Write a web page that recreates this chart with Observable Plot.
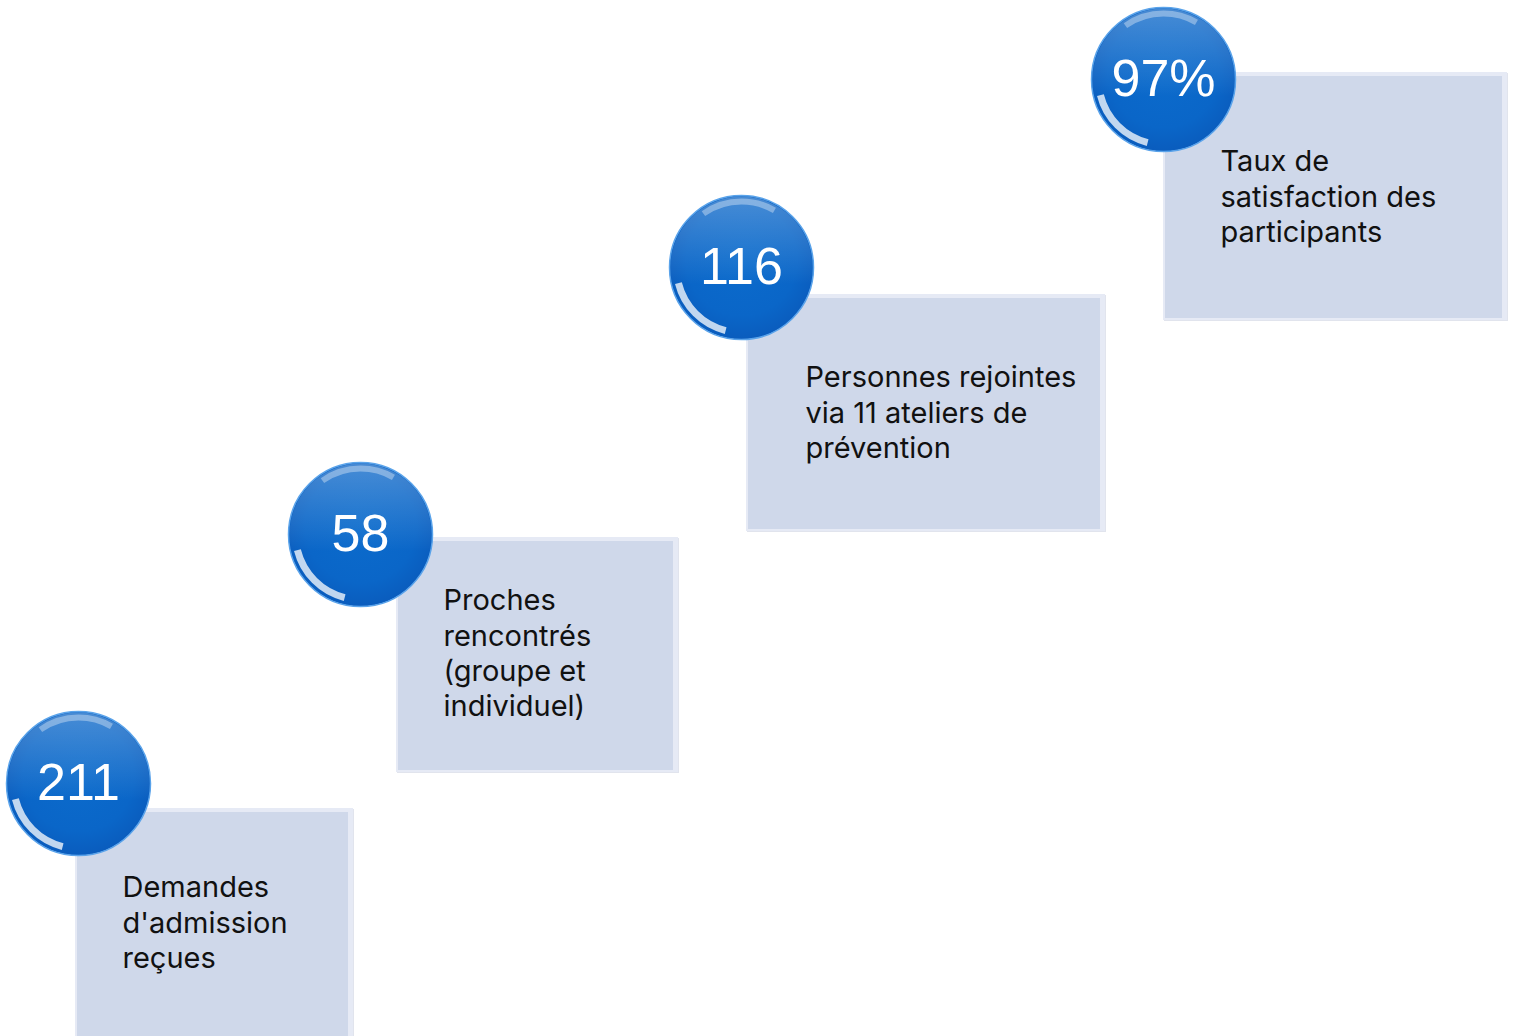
<!DOCTYPE html>
<html>
<head>
<meta charset="utf-8">
<script src="https://cdn.jsdelivr.net/npm/d3@7"></script>
<script src="https://cdn.jsdelivr.net/npm/@observablehq/plot@0.6"></script>
<style>
  html, body { margin: 0; padding: 0; background: #ffffff; }
  #chart svg { display: block; }
</style>
</head>
<body>
<div id="chart"></div>
<script>
// ---- Data ----
const values = ["211", "58", "116", "97%"];
const labels = [
  "Demandes\nd'admission\nreçues",
  "Proches\nrencontrés\n(groupe et\nindividuel)",
  "Personnes rejointes\nvia 11 ateliers de\nprévention",
  "Taux de\nsatisfaction des\nparticipants"
];

// ---- Layout (staircase geometry, in page units) ----
const boxLeft   = [75, 396, 746, 1163];
const boxRight  = [353, 678, 1105, 1507];
const boxTop    = [808, 537, 294, 72];
const boxBottom = [1040, 772, 531, 320];
const ballX     = [78, 360, 741, 1163];
const ballY     = [783, 534, 267, 79];
const labelX    = [122, 443, 805, 1220];
const labelTop  = [872, 585, 362, 146];

const steps = values.map((v, i) => ({
  value: v, label: labels[i],
  x1: boxLeft[i], x2: boxRight[i], y1: boxTop[i], y2: boxBottom[i],
  cx: ballX[i], cy: ballY[i], lx: labelX[i], ly: labelTop[i]
}));

const font = "Inter, 'Noto Sans', sans-serif";
const numFont = "'Liberation Sans', Arial, sans-serif";

const svg = Plot.plot({
  width: 1514,
  height: 1036,
  margin: 0,
  style: { background: "#ffffff", fontFamily: font, overflow: "visible" },
  x: { domain: [0, 1514], range: [0, 1514], axis: null },
  y: { domain: [0, 1036], range: [0, 1036], axis: null },
  marks: [
    // soft shadow
    Plot.rect(steps, { x1: "x1", x2: "x2", y1: "y1", y2: "y2", dx: 1, dy: 1, fill: "#c3cadb", fillOpacity: 0.5 }),
    // bevel frame
    Plot.rect(steps, { x1: "x1", x2: "x2", y1: "y1", y2: "y2", fill: "#e6eaf5" }),
    // box face
    Plot.rect(steps, { x1: "x1", x2: "x2", y1: "y1", y2: "y2",
      insetTop: 4, insetRight: 5, insetLeft: 2, insetBottom: 2, fill: "#cfd8ea" }),
    // labels
    Plot.text(steps, {
      x: "lx", y: "ly", text: "label", textAnchor: "start", lineAnchor: "top",
      fontSize: 29, lineHeight: 1.21, fill: "#111111", fontFamily: font
    }),
    // balls
    Plot.dot(steps, { x: "cx", y: "cy", r: 72, fill: "url(#ballGrad)", stroke: "#5aa3ea", strokeWidth: 1.5 }),
    Plot.dot(steps, { x: "cx", y: "cy", r: 71, fill: "url(#topGloss)" }),
    Plot.dot(steps, {
      x: "cx", y: "cy", r: 66, fill: "none", stroke: "#ffffff", strokeWidth: 6,
      strokeOpacity: 0.35, strokeDasharray: "0 270 75 1000", ariaLabel: "glosstop"
    }),
    Plot.dot(steps, {
      x: "cx", y: "cy", r: 65, fill: "none", stroke: "#ffffff", strokeWidth: 7,
      strokeOpacity: 0.75, strokeDasharray: "0 118 70 1000", ariaLabel: "gloss"
    }),
    // values
    Plot.text(steps, {
      x: "cx", y: "cy", text: "value", fill: "#ffffff", fontSize: 52,
      fontFamily: numFont
    })
  ]
});

const defs = d3.select(svg).insert("defs", ":first-child");
const g = defs.append("radialGradient").attr("id", "ballGrad")
  .attr("cx", "50%").attr("cy", "45%").attr("r", "55%");
g.append("stop").attr("offset", "0%").attr("stop-color", "#0b6bcc");
g.append("stop").attr("offset", "70%").attr("stop-color", "#0a66c8");
g.append("stop").attr("offset", "100%").attr("stop-color", "#0a5cbd");
const tg = defs.append("linearGradient").attr("id", "topGloss")
  .attr("x1", 0).attr("y1", 0).attr("x2", 0).attr("y2", 1);
tg.append("stop").attr("offset", "0%").attr("stop-color", "#ffffff").attr("stop-opacity", 0.25);
tg.append("stop").attr("offset", "45%").attr("stop-color", "#ffffff").attr("stop-opacity", 0.07);
tg.append("stop").attr("offset", "62%").attr("stop-color", "#ffffff").attr("stop-opacity", 0);
const f = defs.append("filter").attr("id", "soft").attr("x", "-20%").attr("y", "-20%").attr("width", "140%").attr("height", "140%");
f.append("feGaussianBlur").attr("stdDeviation", 3);
const f2 = defs.append("filter").attr("id", "soft2").attr("x", "-20%").attr("y", "-20%").attr("width", "140%").attr("height", "140%");
f2.append("feGaussianBlur").attr("stdDeviation", 3.5);
d3.select(svg).select('g[aria-label="gloss"]').attr("filter", "url(#soft)");
d3.select(svg).select('g[aria-label="glosstop"]').attr("filter", "url(#soft2)");

document.getElementById("chart").appendChild(svg);
</script>
</body>
</html>
